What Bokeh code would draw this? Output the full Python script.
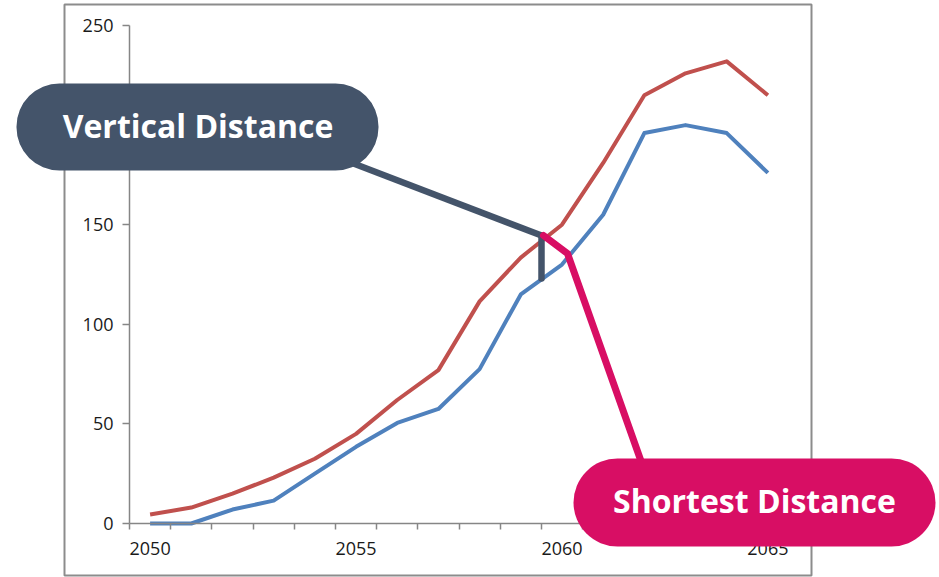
from bokeh.plotting import figure
from bokeh.models import Range1d, FixedTicker, BoxAnnotation, Label
from bokeh.embed import file_html
from bokeh.resources import INLINE

# ---- data ----
years = list(range(2050, 2066))
red_series = [4.5, 8, 15, 23, 32.5, 45, 62, 77, 111.5, 133.5, 150, 181, 215, 226, 232, 215]
blue_series = [0, 0, 7, 11.5, 25, 38.5, 50.5, 57.5, 77.5, 115, 130, 155, 196, 200, 196, 176]
x_tick_labels = [2050, 2055, 2060, 2065]
y_ticks = [0, 50, 100, 150, 200, 250]

# ---- layout (canvas pixels of the chart's plot area) ----
W, H = 939, 577
FX0, FX1, FY0, FY1 = 129, 788, 25, 523
X0, X1, Y0, Y1 = 2049.5, 2065.5, 0, 250


def dx(px):
    return X0 + (px - FX0) * (X1 - X0) / (FX1 - FX0)


def dy(py):
    return Y0 + (FY1 - py) * (Y1 - Y0) / (FY1 - FY0)


p = figure(width=W, height=H, output_backend="svg", toolbar_location=None,
           x_range=Range1d(dx(0), dx(W)), y_range=Range1d(dy(H), dy(0)),
           min_border=0)
p.outline_line_color = None
p.xgrid.visible = False
p.ygrid.visible = False
p.background_fill_color = "white"
p.border_fill_color = "white"

AXIS_C = "#868686"
LABEL_C = "#1a1a1a"
# x axis
xa = p.xaxis[0]
xa.fixed_location = Y0
xa.bounds = (X0, X1)
xa.ticker = FixedTicker(ticks=x_tick_labels, minor_ticks=[y - 0.5 for y in years] + [years[-1] + 0.5])
xa.major_tick_line_color = None
xa.minor_tick_line_color = AXIS_C
xa.minor_tick_line_width = 1.5
xa.minor_tick_out = 6
xa.minor_tick_in = 0
xa.axis_line_color = AXIS_C
xa.axis_line_width = 1.5
xa.major_label_text_font = "Open Sans"
xa.major_label_text_font_size = "18px"
xa.major_label_text_color = LABEL_C
xa.major_label_standoff = 12
# y axis
ya = p.yaxis[0]
ya.fixed_location = X0
ya.bounds = (Y0, Y1)
ya.ticker = FixedTicker(ticks=y_ticks)
ya.minor_tick_line_color = None
ya.major_tick_line_color = AXIS_C
ya.major_tick_line_width = 1.5
ya.major_tick_out = 7
ya.major_tick_in = 0
ya.axis_line_color = AXIS_C
ya.axis_line_width = 1.5
ya.major_label_text_font = "Open Sans"
ya.major_label_text_font_size = "18px"
ya.major_label_text_color = LABEL_C
ya.major_label_standoff = 9

# series
p.line(years, red_series, line_color="#C0504D", line_width=4, line_join="round")
p.line(years, blue_series, line_color="#4F81BD", line_width=4, line_join="round")

# outer chart frame
p.add_layout(BoxAnnotation(left=dx(64), right=dx(811), top=dy(4), bottom=dy(575),
                           fill_alpha=0, line_color="#8C8C8C", line_alpha=1, line_width=2,
                           level="underlay"))

DARK = "#44546A"
PINK = "#D80E64"

# leader lines
p.line([dx(353), dx(541)], [dy(163), dy(235)], line_color=DARK, line_width=6.5, line_cap="round")
p.line([dx(541), dx(541)], [dy(235), dy(278)], line_color=DARK, line_width=6.5, line_cap="round")
p.line([dx(543), dx(567), dx(641)], [dy(235), dy(253), dy(462)], line_color=PINK, line_width=7,
       line_cap="round", line_join="round")

# pills
p.add_layout(BoxAnnotation(left=dx(16), right=dx(378), top=dy(83), bottom=dy(170),
                           fill_color=DARK, fill_alpha=1, line_color=None, border_radius=43))
p.add_layout(BoxAnnotation(left=dx(573), right=dx(935), top=dy(458), bottom=dy(546),
                           fill_color=PINK, fill_alpha=1, line_color=None, border_radius=44))
p.add_layout(Label(x=dx(197.5), y=dy(125), text="Vertical Distance", text_font="Open Sans",
                   text_font_style="bold", text_font_size="32px", text_color="white",
                   text_align="center", text_baseline="middle"))
p.add_layout(Label(x=dx(754), y=dy(499.5), text="Shortest Distance", text_font="Open Sans",
                   text_font_style="bold", text_font_size="32px", text_color="white",
                   text_align="center", text_baseline="middle"))

open("out.html", "w").write(file_html(p, INLINE))
